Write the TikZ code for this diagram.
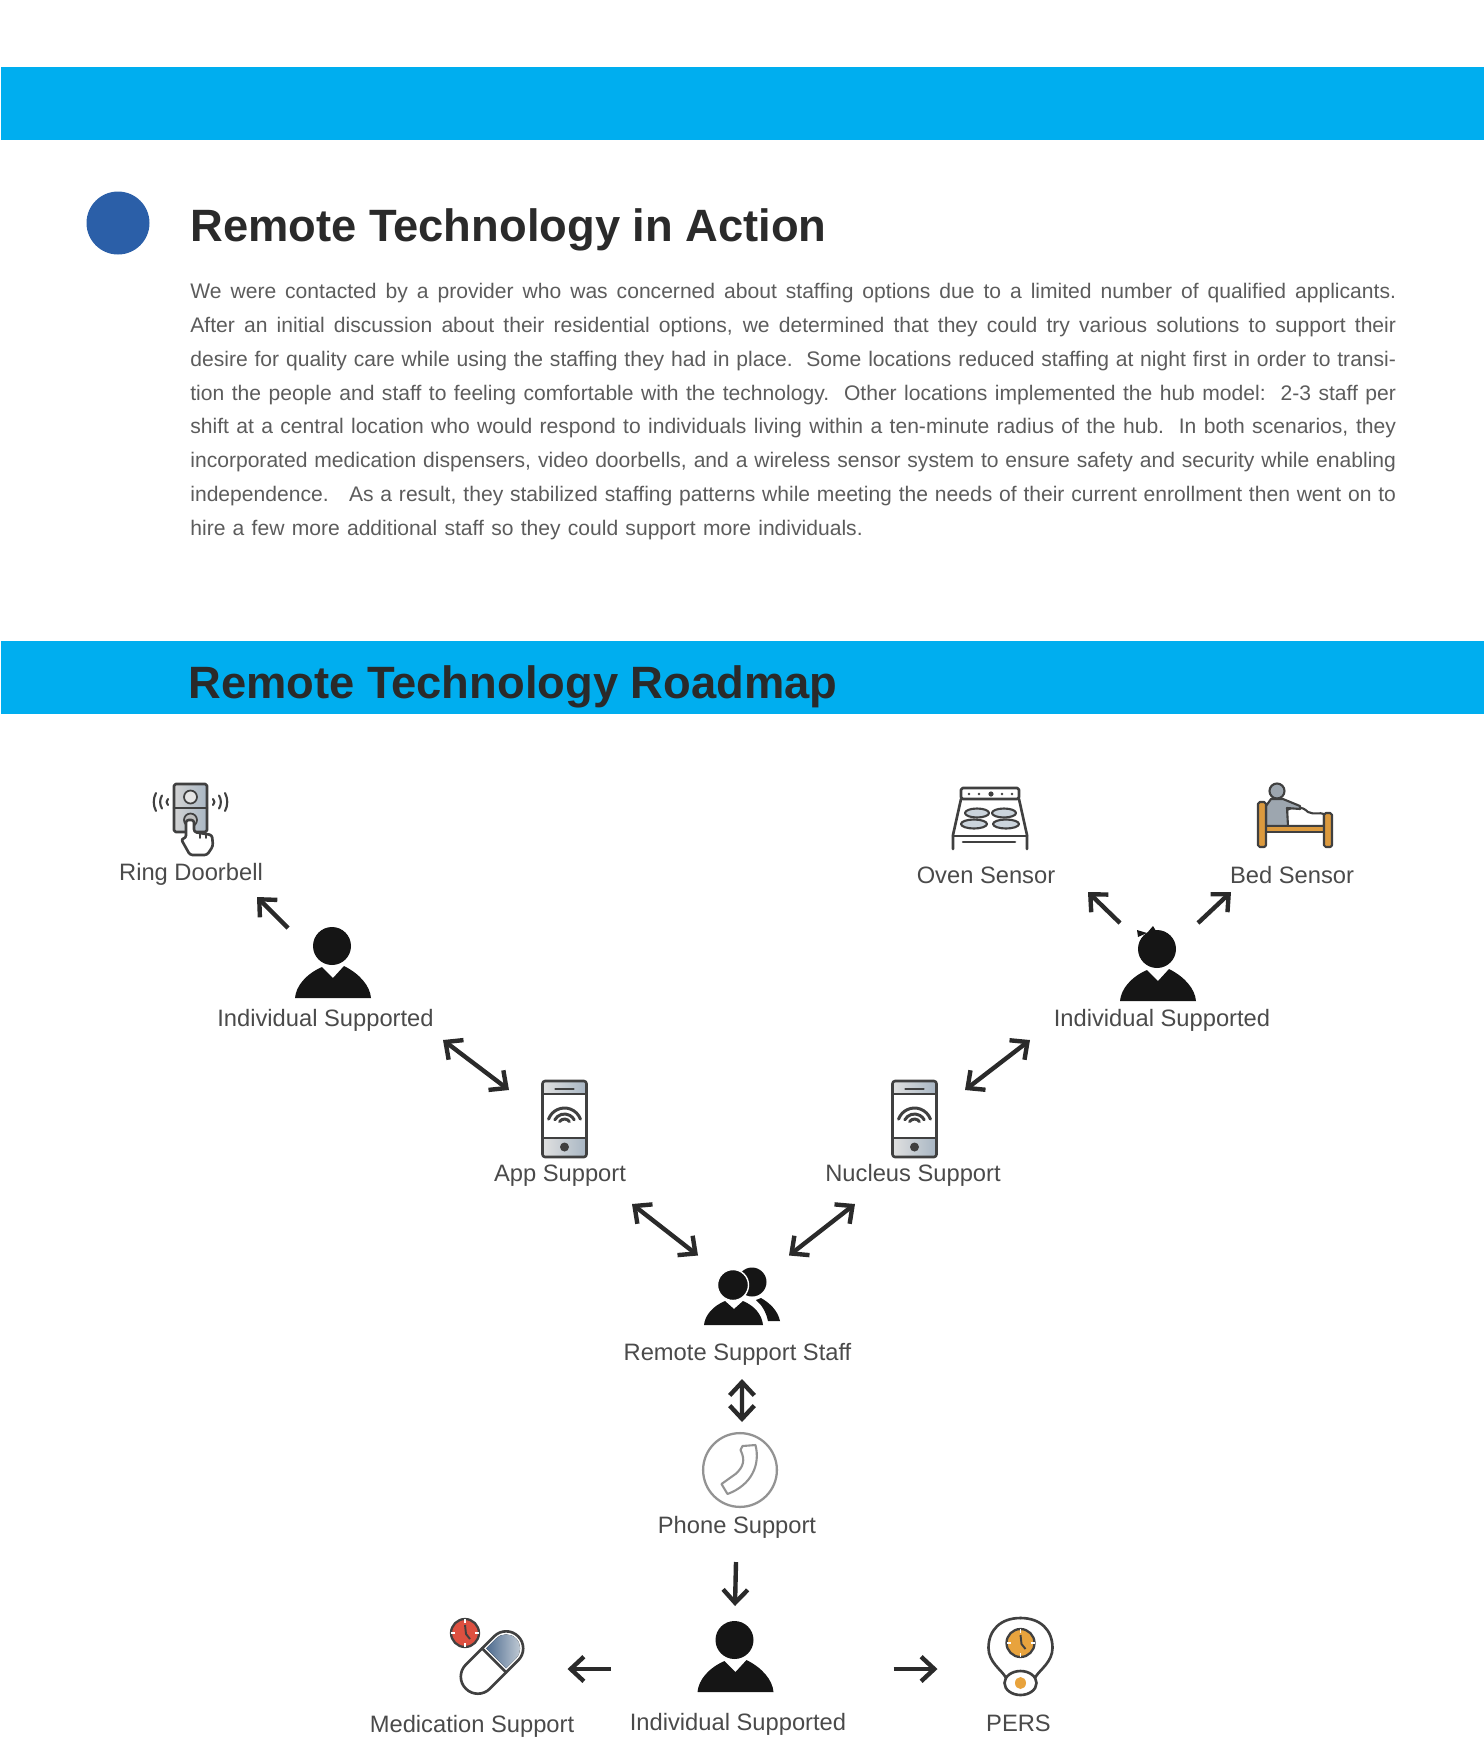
\documentclass[tikz,border=0pt]{standalone}
\usepackage{fontspec}
\setmainfont{Liberation Sans}
\usetikzlibrary{arrows.meta}
\definecolor{barblue}{HTML}{00AEEF}
\definecolor{dotblue}{HTML}{2B5FA8}
\definecolor{inkdark}{HTML}{2A2A2A}
\definecolor{bodygray}{HTML}{5C5C5C}
\definecolor{lblgray}{HTML}{4A4A4A}
\definecolor{iconblack}{HTML}{151515}
\definecolor{icongray}{HTML}{404040}
\definecolor{steelgray}{HTML}{A9B7C4}
\definecolor{pillblue}{HTML}{4F6C90}
\definecolor{clockred}{HTML}{DD5040}
\definecolor{clockorange}{HTML}{E8A33D}
\definecolor{bedorange}{HTML}{DC9A3E}

\begin{document}
\begin{tikzpicture}[
    x=0.02cm, y=-0.02cm,
    heading/.style={anchor=base west, inner sep=0pt, font=\bfseries\fontsize{25.8}{32}\selectfont, text=inkdark},
    lbl/.style={anchor=base, inner sep=0pt, font=\fontsize{13.5}{16}\selectfont, text=lblgray},
    icobox/.style={inner sep=0pt, minimum size=#1},
    link/.style={line width=2.5pt, draw=inkdark, -{Straight Barb[length=7.5pt,width=14pt,line width=2.5pt]}},
    twolink/.style={line width=2.5pt, draw=inkdark, {Straight Barb[length=7.5pt,width=14pt,line width=2.5pt]}-{Straight Barb[length=7.5pt,width=14pt,line width=2.5pt]}},
    icon/.style={draw=icongray, line width=1.5pt, line join=round, line cap=round},
    pics/personicon/.style={code={
        \fill[iconblack] (-1,-52) circle[radius=19];
        \fill[iconblack] (-38,0) .. controls (-37,-12) and (-27,-24) .. (-11,-31) -- (0,-20) -- (11,-32) .. controls (27,-24) and (37,-12) .. (38,0) -- cycle;
    }},
    pics/phoneicon/.style={code={
        \fill[left color=gray!25, right color=steelgray] (-21,-37) rectangle (21,-25);
        \fill[left color=gray!25, right color=steelgray] (-21,19) rectangle (21,37);
        \draw[icon, rounded corners=1.5pt] (-22,-38) rectangle (22,38);
        \draw[icon] (-22,-25) -- (22,-25);
        \draw[icon] (-22,19) -- (22,19);
        \draw[icon] (-9,-30) -- (9,-30);
        \fill[icongray] (0,28) circle[radius=4.5];
        \foreach \r/\a in {6/55, 11/62, 17/70}
            \draw[icon, line width=1.7pt] (0,6) ++(-90-\a:\r) arc[start angle=-90-\a, end angle=-90+\a, radius=\r];
    }},
    pics/clockicon/.style={code={
        \draw[fill=#1, draw=icongray, line width=1.3pt] (0,0) circle[radius=14];
        \foreach \a in {0,90,180,270}
            \draw[white, line width=0.8pt] (\a:10) -- (\a:14);
        \draw[icongray, line width=1.1pt] (0,-8) -- (1,1) -- (5,6);
    }}
]
    \useasboundingbox (0,0) rectangle (1484,1749);

    % Top Section
    \fill[barblue] (1,67) rectangle (1484,140);
    \fill[dotblue] (118,223) circle[radius=31.5];
    \node[heading] (action_title) at (190,241) {Remote Technology in Action};
    \node[anchor=north west, inner sep=0pt, text width=24.12cm, align=justify, text=bodygray,
          font=\fontsize{12}{19.25}\selectfont] (action_text) at (190,283) {%
        We were contacted by a provider who was concerned about staffing options due to a limited number of qualified applicants.\linebreak
        After an initial discussion about their residential options, we determined that they could try various solutions to support their\linebreak
        desire for quality care while using the staffing they had in place.\ \ Some locations reduced staffing at night first in order to transi-\linebreak
        tion the people and staff to feeling comfortable with the technology.\ \ Other locations implemented the hub model:\ \ 2-3 staff per\linebreak
        shift at a central location who would respond to individuals living within a ten-minute radius of the hub.\ \ In both scenarios, they\linebreak
        incorporated medication dispensers, video doorbells, and a wireless sensor system to ensure safety and security while enabling\linebreak
        independence.\ \ \ As a result, they stabilized staffing patterns while meeting the needs of their current enrollment then went on to\linebreak
        \makebox[382.7pt][s]{hire a few more additional staff so they could support more individuals.}};

    % Roadmap Bar
    \fill[barblue] (1,641) rectangle (1484,714);
    \node[heading] (roadmap_title) at (188,698) {Remote Technology Roadmap};

    % Labels
    \node[lbl] (lbl_ring) at (191,880) {Ring Doorbell};
    \node[lbl] (lbl_oven) at (986,883) {Oven Sensor};
    \node[lbl] (lbl_bed) at (1292,883) {Bed Sensor};
    \node[lbl] (lbl_indiv1) at (325.5,1026) {Individual Supported};
    \node[lbl] (lbl_indiv2) at (1162,1026) {Individual Supported};
    \node[lbl] (lbl_app) at (560,1181) {App Support};
    \node[lbl] (lbl_nucleus) at (913,1181) {Nucleus Support};
    \node[lbl] (lbl_staff) at (737.5,1360) {Remote Support Staff};
    \node[lbl] (lbl_phone) at (737,1533) {Phone Support};
    \node[lbl] (lbl_med) at (472,1732) {Medication Support};
    \node[lbl] (lbl_indiv3) at (738,1730) {Individual Supported};
    \node[lbl] (lbl_pers) at (1018.5,1731) {PERS};

    % Icon Places
    \node[icobox=41pt] (ico_ring) at (190,820) {};
    \node[icobox=41pt] (ico_oven) at (990,818) {};
    \node[icobox=41pt] (ico_bed) at (1295,815) {};
    \node[icobox=43pt] (ico_indiv1) at (333,972) {};
    \node[icobox=43pt] (ico_indiv2) at (1158,966) {};
    \node[icobox=43pt] (ico_app) at (564.5,1119) {};
    \node[icobox=43pt] (ico_nucleus) at (914.5,1119) {};
    \node[icobox=43pt] (ico_staff) at (742,1296.5) {};
    \node[circle, draw=gray!85, line width=1.3pt, minimum size=42pt, inner sep=0pt] (ico_phone) at (740,1470) {};
    \node[icobox=43pt] (ico_indiv3) at (735.5,1655) {};
    \node[icobox=36pt] (ico_med) at (491.5,1656) {};
    \node[icobox=36pt] (ico_pers) at (1020.5,1656) {};

    % People
    \pic at (333,998) {personicon};
    \pic at (1158,1001) {personicon};
    \pic at (735.5,1692) {personicon};
    \fill[iconblack] (1147,933) -- (1137,930) -- (1138,937) -- cycle;
    \fill[iconblack] (1147,933) -- (1153,926) -- (1156,931) -- cycle;

    % Staff Group
    \fill[iconblack] (752,1282) circle[radius=14.5];
    \fill[iconblack] (761,1298) .. controls (770,1303) and (778,1311) .. (780,1321) -- (768,1321) .. controls (766,1312) and (762,1305) .. (756,1300) -- cycle;
    \fill[iconblack, draw=white, line width=0.8pt] (733,1285) circle[radius=15.5];
    \fill[iconblack] (704,1325) .. controls (705,1315) and (713,1306) .. (725,1301) -- (734,1309) -- (743,1301) .. controls (755,1306) and (762,1315) .. (763,1325) -- cycle;

    % Phones
    \pic at (564.5,1119) {phoneicon};
    \pic at (914.5,1119) {phoneicon};

    % Handset
    \begin{scope}[shift={(-2.5,0)}]
    \draw[draw=gray!85, line width=1.2pt, line join=round] (745,1446) -- (758,1445) .. controls (763,1465) and (754,1485) .. (730,1494) -- (724,1484) -- (738,1474) .. controls (746,1467) and (748,1460) .. (743,1450) -- cycle;
    \end{scope}

    % Doorbell
    \draw[icon, left color=gray!35, right color=steelgray, rounded corners=1pt] (174,784) rectangle (207,832);
    \draw[icon] (174,808) -- (207,808);
    \draw[icon, fill=gray!20, line width=1pt] (190.5,797) circle[radius=6.5];
    \draw[icon, fill=gray!50, line width=1pt] (190.5,820) circle[radius=6.5];
    \draw[icon, fill=white, rounded corners=1.5pt] (186,820) -- (194,820) -- (194,832) -- (212,835) -- (213,846) -- (207,855) -- (190,855) -- (181,839) -- (186,838) -- cycle;
    \draw[icon, line width=1pt] (200,833) -- (200,838) (206,834) -- (206,838);
    \foreach \xa/\xb/\hh in {156/153/9, 162/159.5/6.5, 168/166/3}
        \draw[icon, line width=1.2pt] (\xa,802-\hh) .. controls (\xb,802-0.4*\hh) and (\xb,802+0.4*\hh) .. (\xa,802+\hh);
    \foreach \xa/\xb/\hh in {225/228/9, 219/221.5/6.5, 213/215/3}
        \draw[icon, line width=1.2pt] (\xa,802-\hh) .. controls (\xb,802-0.4*\hh) and (\xb,802+0.4*\hh) .. (\xa,802+\hh);

    % Oven
    \draw[icon, rounded corners=1pt] (961,788) rectangle (1019,799);
    \draw[icon] (961,799) -- (953,835) -- (953,849);
    \draw[icon] (1019,799) -- (1027,835) -- (1027,849);
    \draw[icon] (953,836) -- (1027,836);
    \draw[icon] (963,842) -- (1015,842);
    \foreach \dx in {969,979,1002,1012}
        \fill[icongray] (\dx,794) circle[radius=1.4];
    \fill[icongray] (991,794) circle[radius=2.6];
    \foreach \cx/\cy/\rx in {977/813/12, 1004/813/12, 974/824/13, 1006/824/13}
        \draw[icon, fill=steelgray!60, line width=1.2pt] (\cx,\cy) ellipse[x radius=\rx, y radius=4.5];

    % Bed
    \draw[icon, fill=steelgray!70!gray, line width=1.2pt] (1277,791) circle[radius=7.5];
    \draw[icon, fill=white, line width=1.2pt] (1287,810) .. controls (1295,806) and (1302,806) .. (1308,812) .. controls (1314,815) and (1320,812) .. (1324,814) -- (1324,826) -- (1287,826) -- cycle;
    \draw[icon, fill=steelgray!70!gray, line width=1.2pt] (1271,799) -- (1283,799) -- (1300,806) -- (1300,809) -- (1287,808) -- (1288,826) -- (1266,826) -- (1266,806) -- cycle;
    \draw[icon, fill=bedorange, line width=1.2pt] (1265,826) rectangle (1325,832);
    \draw[icon, fill=bedorange, rounded corners=1pt, line width=1.2pt] (1258,802) rectangle (1266,847);
    \draw[icon, fill=bedorange, rounded corners=1pt, line width=1.2pt] (1324,813) rectangle (1332,847);

    % Medication
    \pic at (465,1633) {clockicon=clockred};
    \begin{scope}[shift={(492,1662.5)}, rotate=45]
        \fill[left color=pillblue, right color=steelgray!70] (6,-14) -- (20,-14) arc[start angle=-90, end angle=90, radius=14] -- (6,14) -- cycle;
        \draw[icon, rounded corners=9.6pt] (-37,-17) rectangle (37,17);
        \draw[icon] (3,-17) -- (3,17);
    \end{scope}

    % PERS
    \begin{scope}[shift={(-4.5,0)}]
    \draw[icon] (1025,1618) .. controls (1045,1618) and (1057,1630) .. (1057,1648) .. controls (1057,1662) and (1044,1670) .. (1040,1677);
    \draw[icon] (1025,1618) .. controls (1005,1618) and (993,1630) .. (993,1648) .. controls (993,1662) and (1006,1670) .. (1010,1677);
    \draw[icon] (1025,1683) ellipse[x radius=16, y radius=12];
    \fill[clockorange] (1025,1683) ellipse[x radius=5.5, y radius=6];
    \pic at (1025,1643) {clockicon=clockorange};
    \end{scope}

    % Connectors
    \draw[link] ([shift={(-45,-44)}]ico_indiv1.center) -- ([shift={(66,17)}]lbl_ring.base);
    \draw[twolink] ([shift={(117.5,14)}]lbl_indiv1.base) -- ([shift={(-55.5,-29)}]ico_app.center);
    \draw[twolink] ([shift={(72,23)}]lbl_app.base) -- ([shift={(-44,-41)}]ico_staff.center);
    \draw[twolink] ([shift={(-58,23)}]lbl_nucleus.base) -- ([shift={(47,-41)}]ico_staff.center);
    \draw[twolink] ([shift={(-132,14)}]lbl_indiv2.base) -- ([shift={(50.5,-29)}]ico_nucleus.center);
    \draw[link] ([shift={(-38,-43)}]ico_indiv2.center) -- ([shift={(102,9)}]lbl_oven.base);
    \draw[link] ([shift={(40,-43)}]ico_indiv2.center) -- ([shift={(-61,9)}]lbl_bed.base);
    \draw[twolink] ([shift={(4.5,19)}]lbl_staff.base) -- ([shift={(2,-48)}]ico_phone.center);
    \draw[link] ([shift={(-1,29)}]lbl_phone.base) -- ([shift={(-0.5,-49)}]ico_indiv3.center);
    \draw[link] ([shift={(-124.5,14)}]ico_indiv3.center) -- ([shift={(76,13)}]ico_med.center);
    \draw[link] ([shift={(158,14)}]ico_indiv3.center) -- ([shift={(-83,13)}]ico_pers.center);

\end{tikzpicture}
\end{document}
